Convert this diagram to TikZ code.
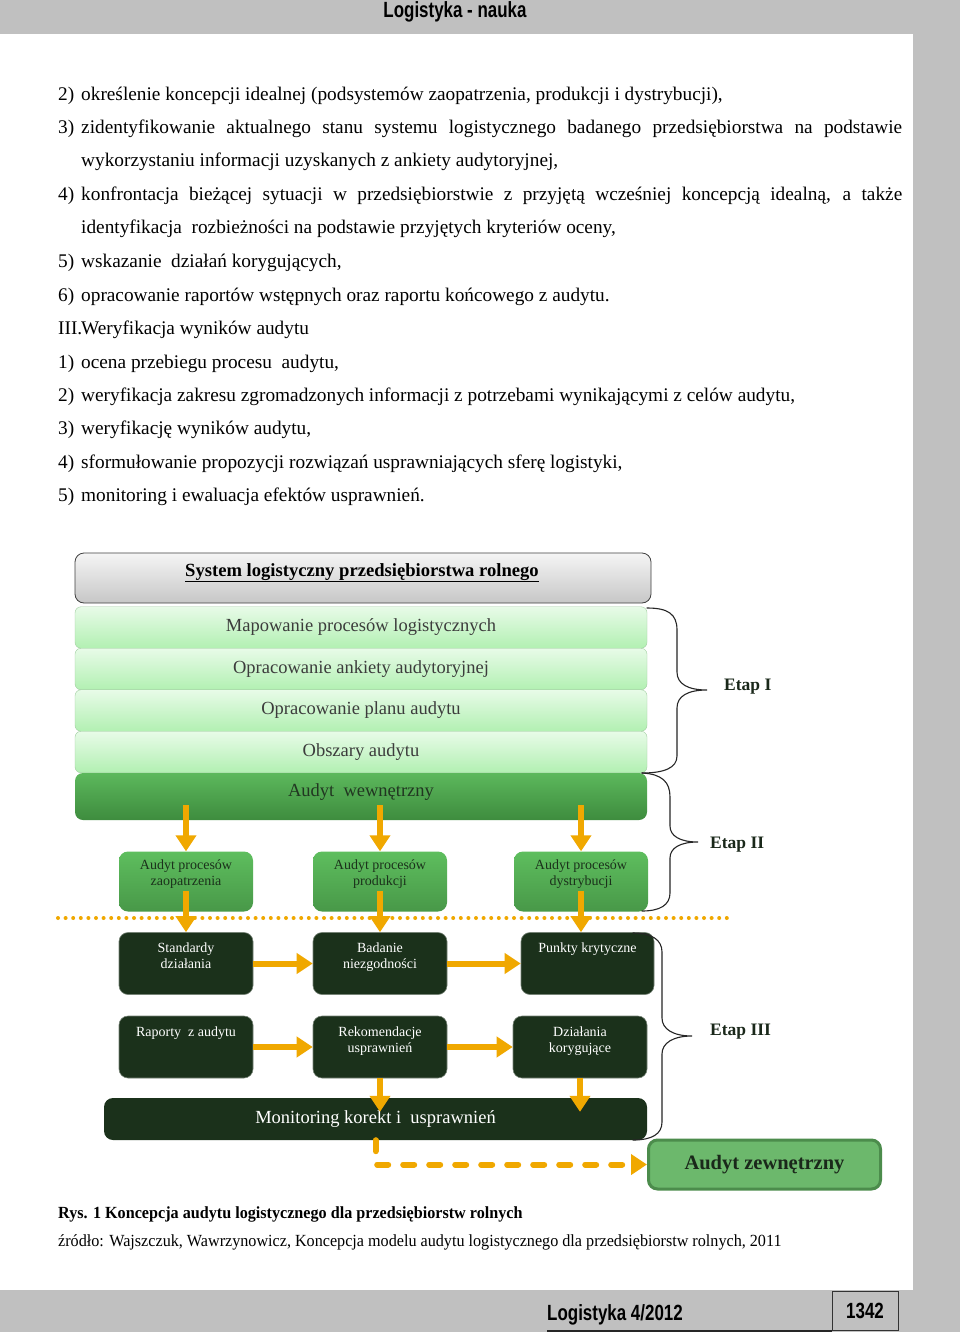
\documentclass[tikz,border=0pt]{standalone}
\usepackage{fontspec}
\setmainfont{Liberation Serif}
\newfontfamily\headfont[FakeStretch=0.77]{Liberation Sans}
\newfontfamily\capfont[FakeStretch=0.95]{Liberation Serif}
\usepackage{tikz}
\usetikzlibrary{arrows.meta}

\definecolor{pagegray}{RGB}{192,192,192}
\definecolor{orangeline}{RGB}{240,168,0}
\definecolor{darkgreen}{RGB}{27,49,27}
\definecolor{midtop}{RGB}{94,190,94}
\definecolor{midbot}{RGB}{72,152,72}
\definecolor{intop}{RGB}{92,184,92}
\definecolor{inbot}{RGB}{62,140,62}
\definecolor{lighttop}{RGB}{232,251,232}
\definecolor{lightbot}{RGB}{178,240,178}
\definecolor{lightedge}{RGB}{160,205,160}
\definecolor{lighttext}{RGB}{60,60,60}
\definecolor{etaptext}{RGB}{26,40,26}
\definecolor{zewnfill}{RGB}{108,184,108}
\definecolor{zewnedge}{RGB}{76,140,76}

\begin{document}
\begin{tikzpicture}[x=1pt, y=-1pt,
    bodytext/.style={anchor=base west, inner sep=0pt, font=\fontsize{19.3}{22}\selectfont},
    lightbox/.style={draw=lightedge, rounded corners=6pt, top color=lighttop, bottom color=lightbot,
        minimum width=572pt, minimum height=41.5pt, inner sep=0pt, text=lighttext,
        font=\fontsize{18.5}{22}\selectfont},
    midbox/.style={rounded corners=9pt, top color=midtop, bottom color=midbot,
        minimum width=134pt, minimum height=60pt, inner sep=0pt},
    darkbox/.style={rounded corners=9pt, fill=darkgreen, draw=darkgreen!60!white, line width=0.6pt,
        minimum width=134pt, minimum height=62pt, inner sep=0pt},
    midtext/.style={anchor=north, inner sep=0pt, align=center, text=darkgreen,
        font=\fontsize{14}{16}\selectfont},
    darktext/.style={anchor=north, inner sep=0pt, align=center, text=white,
        font=\fontsize{14}{16}\selectfont},
    etap/.style={anchor=west, inner sep=0pt, text=etaptext, font=\fontsize{17.5}{20}\selectfont\bfseries},
    brace/.style={black!85, line width=1.1pt, line cap=round},
    flow/.style={orangeline, line width=6pt, -{Triangle[width=20pt,length=16pt]}},
]
    \useasboundingbox (0,0) rectangle (960,1332);
    % Draw the page and its grey margins
    \fill[white] (0,0) rectangle (960,1332);
    \fill[pagegray] (0,0) rectangle (960,34);
    \fill[pagegray] (913,34) rectangle (960,1290);
    \fill[pagegray] (0,1290) rectangle (960,1332);
    \node[anchor=base, inner sep=0pt, font=\headfont\bfseries\fontsize{22}{24}\selectfont] (head) at (455,18) {Logistyka - nauka};
    \node[draw=black!80, line width=1pt, minimum width=66pt, minimum height=39pt, inner sep=0pt,
          font=\headfont\bfseries\fontsize{22}{24}\selectfont] (pagenum) at (865,1310.5) {1342};
    \node[anchor=base west, inner sep=0pt, font=\headfont\bfseries\fontsize{22}{24}\selectfont] (foot) at (547,1320) {Logistyka 4/2012};
    \draw[line width=2pt, black!85] (foot.west |- pagenum.south) -- (pagenum.south west);

    % Draw the text above the figure
    \node[bodytext] (n1) at (58,101) {2)};
    \node[bodytext] (t1) at (81,101) {określenie koncepcji idealnej (podsystemów zaopatrzenia, produkcji i dystrybucji),};
    \node[bodytext] (n2) at (58,134) {3)};
    \node[bodytext] (t2) at (81,134) {\makebox[821pt][s]{zidentyfikowanie aktualnego stanu systemu logistycznego badanego przedsiębiorstwa na podstawie}};
    \node[bodytext] (t3) at (81,167) {wykorzystaniu informacji uzyskanych z ankiety audytoryjnej,};
    \node[bodytext] (n4) at (58,201) {4)};
    \node[bodytext] (t4) at (81,201) {\makebox[821pt][s]{konfrontacja bieżącej sytuacji w przedsiębiorstwie z przyjętą wcześniej koncepcją idealną, a także}};
    \node[bodytext] (t5) at (81,234) {identyfikacja\ \ rozbieżności na podstawie przyjętych kryteriów oceny,};
    \node[bodytext] (n6) at (58,268) {5)};
    \node[bodytext] (t6) at (81,268) {wskazanie\ \ działań korygujących,};
    \node[bodytext] (n7) at (58,301) {6)};
    \node[bodytext] (t7) at (81,301) {opracowanie raportów wstępnych oraz raportu końcowego z audytu.};
    \node[bodytext] (n8) at (58,334) {III.};
    \node[bodytext] (t8) at (81,334) {Weryfikacja wyników audytu};
    \node[bodytext] (n9) at (58,368) {1)};
    \node[bodytext] (t9) at (81,368) {ocena przebiegu procesu\ \ audytu,};
    \node[bodytext] (n10) at (58,401) {2)};
    \node[bodytext] (t10) at (81,401) {weryfikacja zakresu zgromadzonych informacji z potrzebami wynikającymi z celów audytu,};
    \node[bodytext] (n11) at (58,434) {3)};
    \node[bodytext] (t11) at (81,434) {weryfikację wyników audytu,};
    \node[bodytext] (n12) at (58,468) {4)};
    \node[bodytext] (t12) at (81,468) {sformułowanie propozycji rozwiązań usprawniających sferę logistyki,};
    \node[bodytext] (n13) at (58,501) {5)};
    \node[bodytext] (t13) at (81,501) {monitoring i ewaluacja efektów usprawnień.};

    % Draw the stage one boxes
    \node[draw=black!75, line width=0.8pt, rounded corners=9pt, top color=black!4, bottom color=black!22,
          minimum width=576pt, minimum height=50pt] (system) at (363,578) {};
    \node[anchor=base, inner sep=0pt, font=\fontsize{18.6}{22}\selectfont\bfseries] (systemtext) at (362,576)
          {\underline{System logistyczny przedsiębiorstwa rolnego}};
    \node[lightbox] (mapowanie) at (361,627.5) {Mapowanie procesów logistycznych};
    \node[lightbox] (ankieta) at (361,669) {Opracowanie ankiety audytoryjnej};
    \node[lightbox] (plan) at (361,710.5) {Opracowanie planu audytu};
    \node[lightbox] (obszary) at (361,752) {Obszary audytu};
    \node[rounded corners=8pt, top color=intop, bottom color=inbot, minimum width=572pt, minimum height=47pt] (wewn) at (361,796.5) {};
    \node[anchor=base, inner sep=0pt, text=etaptext!90!intop, font=\fontsize{18.5}{22}\selectfont] (wewntext) at (361,796) {Audyt\ \ wewnętrzny};

    % Draw the stage two boxes
    \node[midbox] (zaop) at (186,881.5) {};
    \node[midbox] (prod) at (380,881.5) {};
    \node[midbox] (dystr) at (581,881.5) {};
    \node[midtext] (zaoptext) at ([yshift=-8.5pt]zaop.north) {Audyt procesów\\zaopatrzenia};
    \node[midtext] (prodtext) at ([yshift=-8.5pt]prod.north) {Audyt procesów\\produkcji};
    \node[midtext] (dystrtext) at ([yshift=-8.5pt]dystr.north) {Audyt procesów\\dystrybucji};

    % Draw the stage three boxes
    \node[darkbox] (standardy) at (186,963.5) {};
    \node[darkbox] (badanie) at (380,963.5) {};
    \node[darkbox, minimum width=133pt] (punkty) at (587.5,963.5) {};
    \node[darkbox] (raporty) at (186,1047) {};
    \node[darkbox] (rekom) at (380,1047) {};
    \node[darkbox] (dzialania) at (580,1047) {};
    \node[darktext] (standardytext) at ([yshift=-10.5pt]standardy.north) {Standardy\\działania};
    \node[darktext] (badanietext) at ([yshift=-10.5pt]badanie.north) {Badanie\\niezgodności};
    \node[darktext] (punktytext) at ([yshift=-10.5pt]punkty.north) {Punkty krytyczne};
    \node[darktext] (raportytext) at ([yshift=-10.5pt]raporty.north) {Raporty\ \ z audytu};
    \node[darktext] (rekomtext) at ([yshift=-10.5pt]rekom.north) {Rekomendacje\\usprawnień};
    \node[darktext] (dzialaniatext) at ([yshift=-10.5pt]dzialania.north) {Działania\\korygujące};
    \node[rounded corners=9pt, fill=darkgreen, minimum width=543pt, minimum height=42pt,
          text=white, font=\fontsize{18.5}{22}\selectfont] (monit) at (375.5,1119) {Monitoring korekt i\ \ usprawnień};
    \node[rounded corners=9pt, fill=zewnfill, draw=zewnedge, line width=3pt, minimum width=232pt, minimum height=49pt,
          text=etaptext, font=\fontsize{20.5}{24}\selectfont\bfseries] (zewn) at (764.5,1164.5) {Audyt zewnętrzny};

    % Draw the dotted border between stages
    \draw[orangeline, line width=4pt, line cap=round, dash pattern=on 0pt off 7.6pt] (58,918) -- (728,918);

    % Draw the arrows
    \draw[flow] ([yshift=15pt]wewn.south -| zaop.north) -- (zaop.north);
    \draw[flow] ([yshift=15pt]wewn.south -| prod.north) -- (prod.north);
    \draw[flow] ([yshift=15pt]wewn.south -| dystr.north) -- (dystr.north);
    \draw[flow] ([yshift=21pt]zaop.south) -- (standardy.north);
    \draw[flow] ([yshift=21pt]prod.south) -- (badanie.north);
    \draw[flow] ([yshift=21pt]dystr.south) -- (dystr.south |- punkty.north);
    \draw[flow] (standardy.east) -- (badanie.west);
    \draw[flow] (badanie.east) -- (punkty.west);
    \draw[flow] (raporty.east) -- (rekom.west);
    \draw[flow] (rekom.east) -- (dzialania.west);
    \draw[flow] (rekom.south) -- ([yshift=-14pt]rekom.south |- monit.north);
    \draw[flow] (dzialania.south) -- ([yshift=-14pt]dzialania.south |- monit.north);
    \draw[flow, line cap=round, dash pattern=on 11pt off 15pt] (monit.south) |- (zewn.west);

    % Draw the braces and stage labels
    \draw[brace] (647,608) .. controls (668,608) and (677,614) .. (677,630) -- (677,672)
        .. controls (677,684) and (688,690) .. (707,690) .. controls (688,690) and (677,696) .. (677,708)
        -- (677,756) .. controls (677,768) and (664,773) .. (642,773);
    \draw[brace] (642,773) .. controls (662,774) and (670,782) .. (670,797) -- (670,826)
        .. controls (670,836) and (680,842) .. (698,842) .. controls (680,842) and (670,848) .. (670,858)
        -- (670,893) .. controls (670,905) and (660,911) .. (642,911);
    \draw[brace] (633,933) .. controls (652,933) and (662,940) .. (662,952) -- (662,1018)
        .. controls (662,1029) and (673,1036) .. (692,1036) .. controls (673,1036) and (662,1043) .. (662,1054)
        -- (662,1122) .. controls (662,1134) and (652,1140) .. (633,1140);
    \node[etap] (etap1) at (724,687) {Etap I};
    \node[etap] (etap2) at (710,845) {Etap II};
    \node[etap] (etap3) at (710,1032) {Etap III};

    % Draw the caption
    \node[anchor=base west, inner sep=0pt, font=\capfont\fontsize{17}{20}\selectfont\bfseries] (caption) at (58,1218)
        {Rys. 1 Koncepcja audytu logistycznego dla przedsiębiorstw rolnych};
    \node[anchor=base west, inner sep=0pt, font=\capfont\fontsize{17}{20}\selectfont] (source) at (58,1246)
        {źródło: Wajszczuk, Wawrzynowicz, Koncepcja modelu audytu logistycznego dla przedsiębiorstw rolnych, 2011};
\end{tikzpicture}
\end{document}
